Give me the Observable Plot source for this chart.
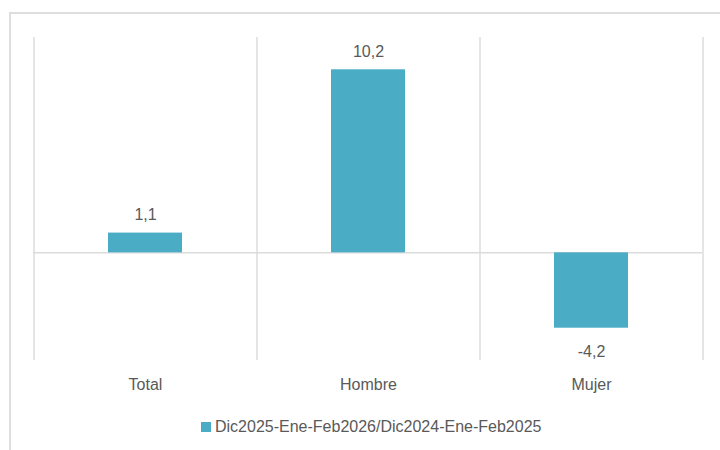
<!DOCTYPE html>
<html>
<head>
<meta charset="utf-8">
<script src="https://cdn.jsdelivr.net/npm/d3@7"></script>
<script src="https://cdn.jsdelivr.net/npm/@observablehq/plot@0.6"></script>
<style>
  html, body { margin: 0; padding: 0; background: #fff; }
  #wrap { position: relative; width: 720px; height: 450px; overflow: hidden; background: #fff; }
  #frame { position: absolute; left: 9px; top: 12px; width: 760px; height: 480px; border-left: 2px solid #dedede; border-top: 2px solid #dedede; }
  #chart { position: absolute; left: 0; top: 0; }
  #legend { position: absolute; left: 201px; top: 418px; display: flex; align-items: center; font-family: "Liberation Sans", Arial, sans-serif; font-size: 16px; color: #595959; }
  #legend .sw { width: 10px; height: 10px; margin-right: 4px; }
</style>
</head>
<body>
<div id="wrap">
  <div id="frame"></div>
  <div id="chart"></div>
  <div id="legend"></div>
</div>
<script>
const categories = ["Total", "Hombre", "Mujer"];
const values = [1.1, 10.2, -4.2];
const seriesName = "Dic2025-Ene-Feb2026/Dic2024-Ene-Feb2025";
const barColor = "#4BACC6";
const textColor = "#595959";
const gridColor = "#dcdcdc";
const fontFamily = '"Liberation Sans", Arial, sans-serif';

const data = categories.map((c, i) => ({category: c, value: values[i]}));
const fmt = v => v.toFixed(1).replace(".", ",");

const chart = Plot.plot({
  width: 720,
  height: 400,
  marginLeft: 33,
  marginRight: 18,
  marginTop: 37,
  marginBottom: 40,
  style: {fontFamily, fontSize: "16px", color: textColor, background: "transparent"},
  x: {domain: categories, paddingInner: 0.67, paddingOuter: 0.335, label: null, tickSize: 0, tickPadding: 18},
  y: {domain: [-6, 12], axis: null},
  marks: [
    Plot.ruleX(categories, {x: d => d, dx: -111.5, y1: -6, y2: 12, stroke: gridColor, strokeWidth: 1.5}),
    Plot.ruleX(categories.slice(-1), {x: d => d, dx: 111.5, y1: -6, y2: 12, stroke: gridColor, strokeWidth: 1.5}),
    Plot.ruleY([0], {stroke: gridColor, strokeWidth: 1.5}),
    Plot.barY(data, {x: "category", y: "value", fill: barColor}),
    Plot.text(data.filter(d => d.value >= 0), {x: "category", y: "value", text: d => fmt(d.value), lineAnchor: "bottom", dy: -13, fill: textColor, fontSize: 16}),
    Plot.text(data.filter(d => d.value < 0), {x: "category", y: "value", text: d => fmt(d.value), lineAnchor: "top", dy: 17, fill: textColor, fontSize: 16}),
    Plot.axisX({tickSize: 0, tickPadding: 18, fontSize: 16, fill: textColor, label: null})
  ]
});
document.getElementById("chart").appendChild(chart);

const legend = document.getElementById("legend");
const sw = document.createElement("span");
sw.className = "sw";
sw.style.background = barColor;
legend.appendChild(sw);
const lt = document.createElement("span");
lt.textContent = seriesName;
legend.appendChild(lt);
</script>
</body>
</html>
